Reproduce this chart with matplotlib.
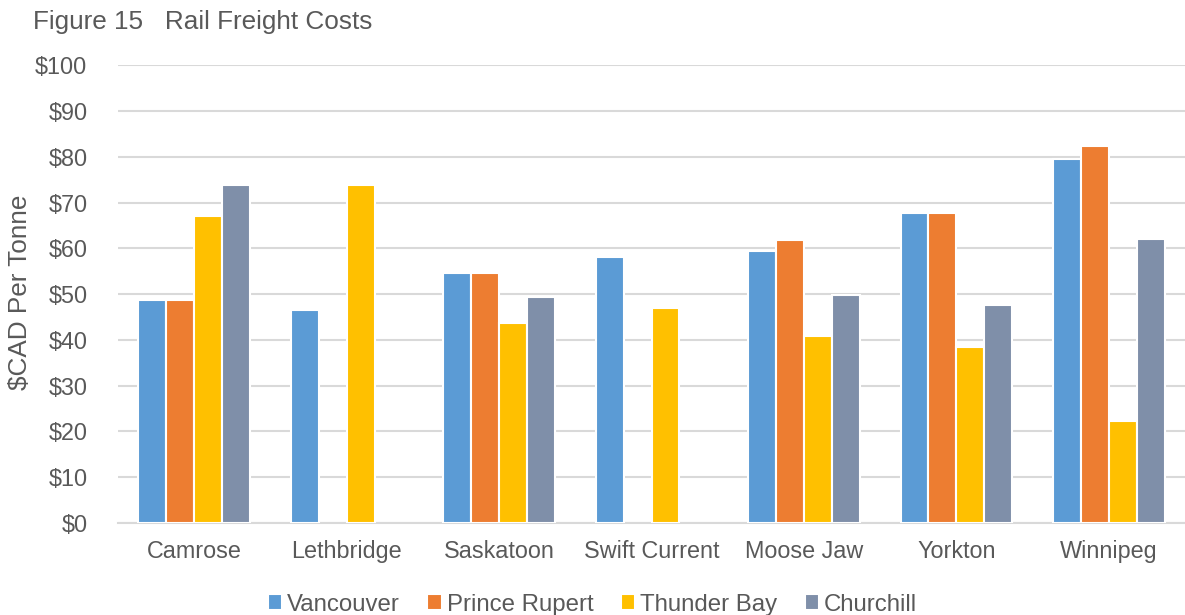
import matplotlib
matplotlib.use('Agg')
import matplotlib.pyplot as plt
import numpy as np

plt.rcParams['font.family'] = ['Liberation Sans', 'DejaVu Sans']

# data (0 = no bar)
origins = ['Camrose', 'Lethbridge', 'Saskatoon', 'Swift Current', 'Moose Jaw', 'Yorkton', 'Winnipeg']
vancouver = [48.7, 46.5, 54.6, 58.1, 59.4, 67.8, 79.5]
prince_rupert = [48.7, 0, 54.6, 0, 61.9, 67.8, 82.4]
thunder_bay = [67.0, 73.8, 43.7, 46.9, 40.8, 38.4, 22.3]
churchill = [73.8, 0, 49.3, 0, 49.8, 47.7, 62.1]

series = [
    ('Vancouver', vancouver, '#5B9BD5'),
    ('Prince Rupert', prince_rupert, '#ED7D31'),
    ('Thunder Bay', thunder_bay, '#FFC000'),
    ('Churchill', churchill, '#7F8FA9'),
]

text_col = '#595959'
fs = 16.8

fig = plt.figure(figsize=(11.85, 6.15), dpi=100)
ax = fig.add_axes([0.0996, 0.1496, 0.9004, 0.7444])

x = np.arange(len(origins))
step = 0.183
for i, (name, vals, col) in enumerate(series):
    vals = np.array(vals, dtype=float)
    vals[vals == 0] = np.nan  # skip missing routes
    ax.bar(x + (i - 1.5) * step, vals, width=step, color=col,
           edgecolor='white', linewidth=1.5, label=name, zorder=3)

ax.set_xlim(-0.5, len(origins) - 0.5)
ax.set_ylim(0, 100)
ax.set_yticks(range(0, 101, 10))
ax.set_yticklabels(['$' + str(v) for v in range(0, 101, 10)])
ax.set_xticks(x)
ax.set_xticklabels(origins)
ax.tick_params(axis='both', length=0, labelsize=fs, labelcolor=text_col)
ax.tick_params(axis='y', pad=22)
ax.tick_params(axis='x', pad=12)
ax.grid(axis='y', color='#D9D9D9', linewidth=1.5, zorder=0)
for s in ['top', 'right', 'left']:
    ax.spines[s].set_visible(False)
ax.spines['bottom'].set_color('#D9D9D9')
ax.spines['bottom'].set_linewidth(1.5)

fig.text(20 / 1185, 1 - 292 / 615, '$CAD Per Tonne', fontsize=18.8, color=text_col,
         rotation=90, ha='center', va='center')

fig.text(0.028, 0.964, 'Figure 15   Rail Freight Costs', fontsize=18.8, color=text_col,
         va='center', ha='left')

leg = fig.legend(loc='center', bbox_to_anchor=(0.5, 0.017), ncol=4, frameon=False,
                 fontsize=17.3, handlelength=0.6, handleheight=0.6, handletextpad=0.2,
                 columnspacing=1.15, labelcolor=text_col)

fig.savefig('out.png', dpi=100)
